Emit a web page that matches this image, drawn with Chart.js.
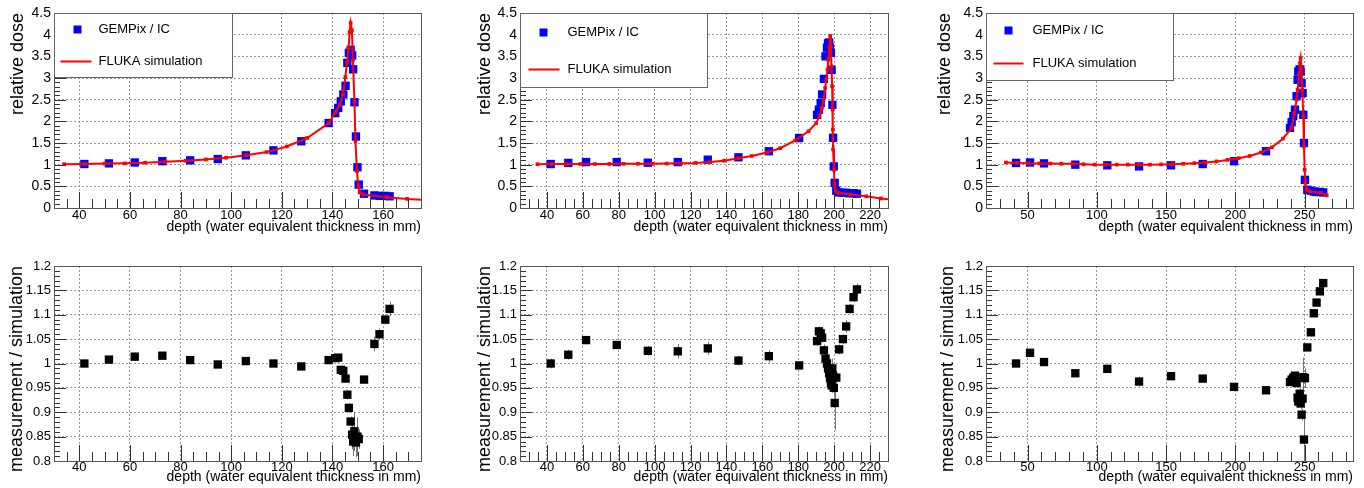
<!DOCTYPE html>
<html>
<head>
<meta charset="utf-8">
<script src="https://cdn.jsdelivr.net/npm/chart.js@4.4.1/dist/chart.umd.min.js"></script>
<style>
  html, body { margin: 0; padding: 0; background: #fff; }
  #wrap { position: relative; width: 1364px; height: 488px; overflow: hidden; }
  #wrap canvas { position: absolute; }
</style>
</head>
<body>
<div id="wrap"></div>
<script>
// ---------- data ----------
// left column
const simX1 = [34, 42, 50, 58, 66, 74, 82, 90, 98, 106, 114, 122, 130, 138.6, 141.2, 142.9, 144.2, 145.1, 145.8, 146.4, 146.8, 147.2, 147.7, 148.1, 148.7, 149.1, 149.7, 150.2, 150.7, 152, 161.5, 169.5, 177.5];
const simY1 = [1.01, 1.015, 1.025, 1.03, 1.045, 1.07, 1.09, 1.12, 1.16, 1.22, 1.29, 1.42, 1.615, 1.96, 2.21, 2.38, 2.62, 3.02, 3.37, 3.69, 4.06, 4.27, 4.1, 3.42, 2.46, 1.54, 0.85, 0.5, 0.36, 0.31, 0.25, 0.21, 0.185];
const measX1 = [42.0, 51.7, 61.9, 72.8, 83.8, 94.7, 105.8, 116.7, 127.7, 138.5, 141.1, 142.3, 143.3, 144.3, 145.2, 145.9, 146.5, 147.2, 147.8, 148.2, 148.7, 149.3, 149.9, 150.4, 152.5, 156.6, 158.6, 160.9, 162.6];
const doseY1 = [1.015, 1.03, 1.05, 1.08, 1.10, 1.13, 1.215, 1.33, 1.54, 1.96, 2.19, 2.31, 2.46, 2.62, 2.82, 3.35, 3.58, 3.65, 3.52, 3.2, 2.44, 1.65, 0.94, 0.54, 0.33, 0.29, 0.28, 0.28, 0.27];
const ratioY1 = [1.0, 1.008, 1.014, 1.016, 1.007, 0.998, 1.005, 1.0, 0.994, 1.007, 1.011, 1.012, 0.987, 0.985, 0.969, 0.936, 0.909, 0.881, 0.854, 0.840, 0.861, 0.838, 0.850, 0.845, 0.967, 1.040, 1.060, 1.090, 1.112];
const ratioErr1 = [0.004, 0.004, 0.008, 0.004, 0.004, 0.004, 0.004, 0.004, 0.004, 0.004, 0.004, 0.004, 0.006, 0.006, 0.006, 0.01, 0.01, 0.01, 0.03, 0.03, 0.04, 0.03, 0.04, 0.02, 0.005, 0.015, 0.012, 0.01, 0.015];

// middle column
const simX2 = [34.7, 42.7, 50.7, 58.7, 66.7, 74.7, 82.7, 90.7, 98.7, 106.7, 114.7, 122.7, 130.7, 138.7, 146.7, 154.1, 162.5, 169.9, 178.3, 185.7, 190, 191.8, 193.2, 194.1, 195, 195.6, 196.3, 196.7, 197.4, 197.8, 198.2, 198.5, 198.9, 199.1, 199.3, 199.4, 199.9, 200.2, 201, 202.4, 208.9, 217.9, 226.1, 233];
const simY2 = [1.01, 1.015, 1.015, 1.015, 1.015, 1.015, 1.02, 1.02, 1.02, 1.025, 1.03, 1.04, 1.06, 1.09, 1.15, 1.2, 1.28, 1.38, 1.56, 1.77, 1.96, 2.12, 2.31, 2.5, 2.77, 2.96, 3.19, 3.42, 3.69, 3.97, 3.73, 3.27, 2.81, 2.27, 1.81, 1.35, 0.88, 0.54, 0.38, 0.35, 0.31, 0.27, 0.22, 0.19];
const measX2 = [42.1, 51.9, 61.8, 78.9, 96.2, 112.9, 129.6, 146.7, 163.6, 180.5, 190.5, 191.5, 192.5, 193.3, 194.3, 195.2, 196.0, 196.6, 197.2, 197.7, 198.2, 198.6, 199.0, 199.4, 199.8, 200.3, 201.2, 202.8, 204.9, 206.7, 208.6, 210.8, 212.7];
const doseY2 = [1.015, 1.04, 1.06, 1.06, 1.045, 1.06, 1.115, 1.17, 1.31, 1.615, 2.15, 2.27, 2.42, 2.62, 2.98, 3.5, 3.7, 3.8, 3.82, 3.7, 3.58, 3.19, 2.38, 1.62, 0.96, 0.58, 0.4, 0.36, 0.35, 0.35, 0.34, 0.34, 0.33];
const ratioY2 = [1.0, 1.018, 1.048, 1.038, 1.026, 1.025, 1.031, 1.006, 1.015, 0.996, 1.046, 1.066, 1.062, 1.053, 1.027, 1.01, 1.0, 0.99, 0.98, 0.97, 0.96, 0.955, 0.99, 0.975, 0.95, 0.919, 0.971, 1.029, 1.050, 1.076, 1.112, 1.136, 1.152];
const ratioErr2 = [0.01, 0.01, 0.008, 0.008, 0.01, 0.015, 0.013, 0.01, 0.013, 0.006, 0.01, 0.01, 0.01, 0.01, 0.012, 0.015, 0.015, 0.015, 0.015, 0.015, 0.015, 0.015, 0.02, 0.02, 0.02, 0.055, 0.012, 0.01, 0.01, 0.013, 0.01, 0.01, 0.012];

// right column
const simX3 = [34.4, 42.4, 50.4, 58.4, 66.4, 74.4, 82.4, 90.4, 98.4, 106.4, 114.4, 122.4, 130.4, 138.4, 146.4, 154.4, 162.4, 170.4, 178.4, 186.4, 194.4, 202.4, 210.4, 218.4, 226.4, 234.4, 240.7, 242.6, 244.3, 245, 246, 246.7, 247.2, 247.9, 248.4, 249.1, 249.6, 250.1, 250.6, 251.5, 253.9, 261.6, 266];
const simY3 = [1.05, 1.04, 1.03, 1.027, 1.025, 1.022, 1.02, 1.01, 1.0, 1.0, 1.0, 1.0, 1.0, 1.0, 1.005, 1.01, 1.02, 1.035, 1.05, 1.075, 1.11, 1.15, 1.2, 1.28, 1.4, 1.6, 1.85, 2.19, 2.5, 2.73, 3.08, 3.35, 3.46, 3.19, 2.73, 2.12, 1.42, 0.88, 0.58, 0.42, 0.38, 0.35, 0.29];
const measX3 = [41.7, 51.8, 61.9, 84.5, 107.6, 130.5, 153.6, 176.5, 199.1, 222.2, 239.5, 240.7, 241.9, 243.1, 244.3, 245.0, 245.5, 246.5, 247.2, 247.9, 248.6, 249.1, 249.6, 250.3, 252.0, 254.6, 256.7, 258.7, 261.1, 263.5];
const doseY3 = [1.04, 1.05, 1.03, 1.0, 0.985, 0.96, 0.985, 1.015, 1.08, 1.31, 1.85, 1.98, 2.12, 2.27, 2.58, 2.96, 3.15, 3.2, 3.15, 2.88, 2.65, 2.15, 1.5, 0.65, 0.42, 0.40, 0.38, 0.37, 0.37, 0.36];
const ratioY3 = [1.0, 1.022, 1.003, 0.98, 0.989, 0.963, 0.974, 0.969, 0.952, 0.945, 0.962, 0.967, 0.971, 0.975, 0.96, 0.93, 0.922, 0.938, 0.918, 0.895, 0.928, 0.972, 0.844, 0.97, 1.033, 1.064, 1.103, 1.125, 1.148, 1.165];
const ratioErr3 = [0.005, 0.005, 0.005, 0.005, 0.005, 0.01, 0.005, 0.005, 0.005, 0.005, 0.008, 0.008, 0.008, 0.008, 0.01, 0.012, 0.012, 0.012, 0.012, 0.012, 0.015, 0.04, 0.05, 0.02, 0.008, 0.008, 0.008, 0.008, 0.008, 0.008];

// tick labels
const xTicks1 = [40, 60, 80, 100, 120, 140, 160];
const xTicks2 = [40, 60, 80, 100, 120, 140, 160, 180, 200, 220];
const xTicks3 = [50, 100, 150, 200, 250];
const doseTicks = [0, 0.5, 1, 1.5, 2, 2.5, 3, 3.5, 4, 4.5];
const ratioTicks = [0.8, 0.85, 0.9, 0.95, 1, 1.05, 1.1, 1.15, 1.2];

const FONT = "'Liberation Sans', Arial, Helvetica, sans-serif";
const NARROW = "'Liberation Sans Narrow', 'Arial Narrow', 'Liberation Sans', sans-serif";
const DEPTH_TITLE = 'depth (water equivalent thickness in mm)';

// ---------- layout (pixels) ----------
const COL_LEFT = [0, 455, 910], COL_W = [455, 455, 454];
const ROW_TOP = [0, 244], ROW_H = 244;
const PLOT_L = [54, 65, 76], PLOT_R = [421, 433, 443];
const PLOT_T = [13, 22], PLOT_B = [208, 217];
const YTITLE_PAD = [[7.5, 19, 24], [6.7, 19, 27]];
const LEG = [
  { w: 178, h: 64, mx: 23, my: 16, tx: 44, l0: 6, l1: 37, ly: 48 },
  { w: 187, h: 74, mx: 23, my: 19, tx: 47, l0: 8, l1: 39, ly: 56 },
  { w: 187, h: 67, mx: 22, my: 17, tx: 46, l0: 7, l1: 37, ly: 50 }
];

const zip = (xs, ys) => xs.map((x, i) => ({ x: x, y: ys[i] }));
const fmt = v => String(Math.round(v * 100) / 100);

function steps(min, max, step) {
  const out = [];
  const k0 = Math.ceil(min / step - 1e-6), k1 = Math.floor(max / step + 1e-6);
  for (let k = k0; k <= k1; k++) out.push(+(k * step).toFixed(6));
  return out;
}

// ROOT-like frame: inner ticks, box, error bars, legend
const rootFrame = {
  id: 'rootFrame',
  beforeDatasetsDraw(chart) {
    const p = chart.options.plugins.rootFrame;
    if (!p.err) return;
    const { ctx, chartArea: a, scales: { x, y } } = chart;
    ctx.save();
    ctx.beginPath();
    ctx.rect(a.left, a.top, a.right - a.left, a.bottom - a.top);
    ctx.clip();
    ctx.strokeStyle = '#777';
    ctx.lineWidth = 1;
    ctx.beginPath();
    p.xs.forEach((xv, i) => {
      const px = Math.round(x.getPixelForValue(xv)) + 0.5;
      ctx.moveTo(px, y.getPixelForValue(p.ys[i] + p.err[i]));
      ctx.lineTo(px, y.getPixelForValue(p.ys[i] - p.err[i]));
    });
    ctx.stroke();
    ctx.restore();
  },
  afterDraw(chart) {
    const p = chart.options.plugins.rootFrame;
    const { ctx, chartArea: a, scales: { x, y } } = chart;
    ctx.save();
    ctx.strokeStyle = '#333';
    ctx.lineWidth = 1;
    ctx.beginPath();
    for (const v of steps(x.min, x.max, p.xMinor)) {
      const px = Math.round(x.getPixelForValue(v)) + 0.5;
      const len = p.xTicks.some(t => Math.abs(t - v) < 1e-6) ? 16 : 9;
      ctx.moveTo(px, a.bottom);
      ctx.lineTo(px, a.bottom - len);
    }
    for (const v of steps(y.min, y.max, p.yMinor)) {
      const py = Math.round(y.getPixelForValue(v)) + 0.5;
      const len = p.yTicks.some(t => Math.abs(t - v) < 1e-6) ? 12 : 6;
      ctx.moveTo(a.left, py);
      ctx.lineTo(a.left + len, py);
    }
    ctx.stroke();
    ctx.strokeStyle = '#555';
    ctx.strokeRect(Math.round(a.left) + 0.5, Math.round(a.top) + 0.5,
      Math.round(a.right - a.left), Math.round(a.bottom - a.top));

    if (p.legend) {
      const g = p.legend;
      const lx = Math.round(a.left) + 0.5, ly = Math.round(a.top) + 0.5;
      ctx.fillStyle = '#fff';
      ctx.fillRect(lx, ly, g.w, g.h);
      ctx.strokeStyle = '#666';
      ctx.strokeRect(lx, ly, g.w, g.h);
      ctx.fillStyle = '#0000ff';
      ctx.fillRect(lx + g.mx - 4, ly + g.my - 4, 8, 8);
      ctx.strokeStyle = '#ff0000';
      ctx.lineWidth = 2;
      ctx.beginPath();
      ctx.moveTo(lx + g.l0, ly + g.ly);
      ctx.lineTo(lx + g.l1, ly + g.ly);
      ctx.stroke();
      ctx.fillStyle = '#000';
      ctx.font = '13px ' + FONT;
      ctx.textBaseline = 'middle';
      ctx.textAlign = 'left';
      ctx.fillText('GEMPix / IC', lx + g.tx, ly + g.my);
      ctx.fillText('FLUKA simulation', lx + g.tx, ly + g.ly);
    }
    ctx.restore();
  }
};

function panel(col, row, xMin, xMax, xTicks, xMinor, datasets, extra) {
  const cv = document.createElement('canvas');
  cv.width = COL_W[col];
  cv.height = ROW_H;
  cv.style.left = COL_LEFT[col] + 'px';
  cv.style.top = ROW_TOP[row] + 'px';
  document.getElementById('wrap').appendChild(cv);

  const isDose = row === 0;
  const yTicks = isDose ? doseTicks : ratioTicks;
  new Chart(cv, {
    type: 'scatter',
    data: { datasets: datasets },
    options: {
      responsive: false,
      animation: false,
      devicePixelRatio: 1,
      events: [],
      layout: { padding: { left: 0, top: PLOT_T[row], right: COL_W[col] - PLOT_R[col], bottom: 0 } },
      plugins: {
        legend: { display: false },
        tooltip: { enabled: false },
        rootFrame: Object.assign({ xTicks: xTicks, xMinor: xMinor, yTicks: yTicks, yMinor: isDose ? 0.1 : 0.01 }, extra)
      },
      scales: {
        x: {
          type: 'linear', min: xMin, max: xMax,
          afterBuildTicks: s => { s.ticks = xTicks.map(v => ({ value: v })); },
          afterFit: s => { s.height = ROW_H - PLOT_B[row]; },
          grid: { color: '#9a9a9a', lineWidth: 1, drawTicks: false },
          border: { display: false, dash: [2, 2] },
          ticks: { font: { family: FONT, size: 13 }, color: '#000', padding: isDose ? 0 : -1, maxRotation: 0, autoSkip: false },
          title: { display: true, text: DEPTH_TITLE, align: 'end', color: '#000',
                   font: { family: FONT, size: 14 }, padding: { top: 0, bottom: isDose ? 8 : 2 } }
        },
        y: {
          type: 'linear', min: yTicks[0], max: yTicks[yTicks.length - 1],
          afterBuildTicks: s => { s.ticks = yTicks.map(v => ({ value: v })); },
          afterFit: s => { s.width = PLOT_L[col]; },
          grid: { color: '#9a9a9a', lineWidth: 1, drawTicks: false },
          border: { display: false, dash: [2, 2] },
          ticks: { font: isDose ? { family: FONT, size: 14 } : { family: NARROW, size: 13 },
                   color: '#000', padding: 3, callback: fmt, autoSkip: false },
          title: { display: true, text: isDose ? 'relative dose' : 'measurement / simulation', align: 'end', color: '#000',
                   font: { family: FONT, size: 18 }, padding: { top: YTITLE_PAD[row][col], bottom: 0 } }
        }
      }
    },
    plugins: [rootFrame]
  });
}

function doseSets(sx, sy, mx, my) {
  return [
    { label: 'FLUKA simulation', data: zip(sx, sy), showLine: true, tension: 0,
      borderColor: '#ff0000', backgroundColor: '#ff0000', borderWidth: 2,
      pointStyle: 'rect', pointRadius: 2.6, pointBorderWidth: 0 },
    { label: 'GEMPix / IC', data: zip(mx, my), showLine: false,
      borderColor: '#0000ff', backgroundColor: '#0000ff',
      pointStyle: 'rect', pointRadius: 5.9, pointBorderWidth: 0 }
  ];
}
function ratioSets(mx, ry) {
  return [
    { label: 'measurement / simulation', data: zip(mx, ry), showLine: false,
      borderColor: '#000', backgroundColor: '#000',
      pointStyle: 'rect', pointRadius: 5.9, pointBorderWidth: 0 }
  ];
}

panel(0, 0, 30, 175, xTicks1, 5, doseSets(simX1, simY1, measX1, doseY1), { legend: LEG[0] });
panel(1, 0, 25, 230, xTicks2, 5, doseSets(simX2, simY2, measX2, doseY2), { legend: LEG[1] });
panel(2, 0, 20, 285, xTicks3, 10, doseSets(simX3, simY3, measX3, doseY3), { legend: LEG[2] });
panel(0, 1, 30, 175, xTicks1, 5, ratioSets(measX1, ratioY1), { xs: measX1, ys: ratioY1, err: ratioErr1 });
panel(1, 1, 25, 230, xTicks2, 5, ratioSets(measX2, ratioY2), { xs: measX2, ys: ratioY2, err: ratioErr2 });
panel(2, 1, 20, 285, xTicks3, 10, ratioSets(measX3, ratioY3), { xs: measX3, ys: ratioY3, err: ratioErr3 });
</script>
</body>
</html>
